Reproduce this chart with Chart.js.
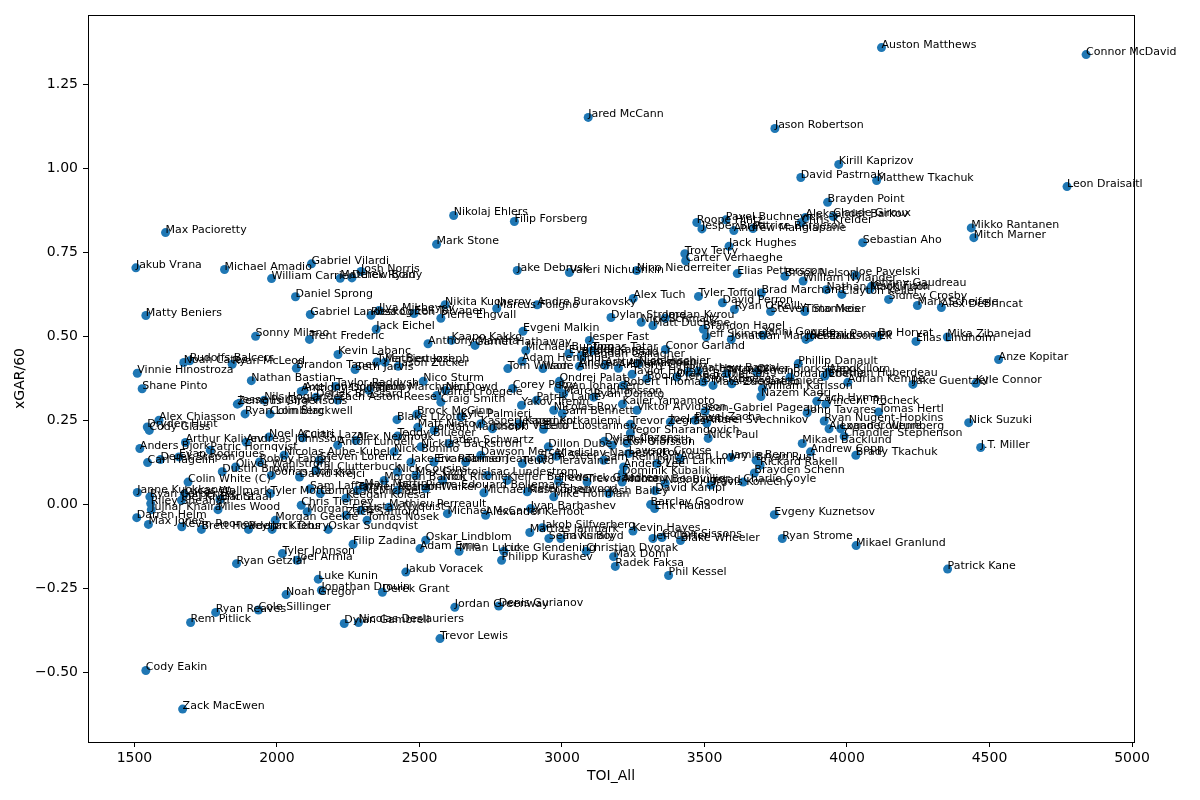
<!DOCTYPE html>
<html>
<head>
<meta charset="utf-8">
<title>xGAR/60 vs TOI_All</title>
<script src="https://cdn.jsdelivr.net/npm/chart.js@4.4.0/dist/chart.umd.min.js"></script>
<style>
    html, body { margin: 0; padding: 0; background: #fff; }
    #wrap { width: 1200px; height: 800px; }
</style>
</head>
<body>
<div id="wrap"><canvas id="xgar-chart" width="1200" height="800"></canvas></div>
<script>

// players, in the same order in all three arrays
const players = [
    'Auston Matthews', 'Connor McDavid', 'Jared McCann', 'Jason Robertson', 'Kirill Kaprizov', 'David Pastrnak', 'Matthew Tkachuk', 'Leon Draisaitl', 'Brayden Point', 'Max Pacioretty',
    'Nikolaj Ehlers', 'Filip Forsberg', 'Mark Stone', 'Mikko Rantanen', 'Mitch Marner', 'Sebastian Aho', 'Jack Hughes', 'Troy Terry', 'Carter Verhaeghe', 'Roope Hintz',
    'Jesper Bratt', 'Pavel Buchnevich', 'Andrew Mangiapane', 'Patrice Bergeron', 'Chris Kreider', 'Aleksander Barkov', 'Claude Giroux', 'Jake Debrusk', 'Valeri Nichushkin', 'Nino Niederreiter',
    'Elias Pettersson', 'Brock Nelson', 'William Nylander', 'Joe Pavelski', 'Johnny Gaudreau', 'Nathan MacKinnon', 'Clayton Keller', 'Mark Scheifele', 'Alex DeBrincat', 'Sidney Crosby',
    'Kevin Fiala', 'Brad Marchand', 'Tyler Toffoli', 'Alex Tuch', 'David Perron', "Ryan O'Reilly", 'Steven Stamkos', 'Timo Meier', 'Jordan Kyrou', 'Dylan Strome',
    'Nick Schmaltz', 'Matt Duchene', 'Brandon Hagel', 'Jeff Skinner', 'Jonathan Marchessault', 'Yanni Gourde', 'Artemi Panarin', 'Joel Eriksson Ek', 'Bo Horvat', 'Elias Lindholm',
    'Mika Zibanejad', 'Anze Kopitar', 'Kyle Connor', 'Jake Guentzel', 'Nick Suzuki', 'J.T. Miller', 'Patrick Kane', 'Mikael Granlund', 'Ryan Strome', 'Evgeny Kuznetsov',
    'Phil Kessel', 'Blake Wheeler', 'Jeff Carter', 'Colton Sissons', 'Kevin Hayes', 'Erik Haula', 'Barclay Goodrow', 'Radek Faksa', 'Max Domi', 'Christian Dvorak',
    'Jakob Silfverberg', 'Mattias Janmark', 'Sean Kuraly', 'Travis Boyd', 'Philipp Kurashev', 'Luke Glendening', 'Milan Lucic', 'Adam Erne', 'Oskar Lindblom', 'Jakub Voracek',
    'Derek Grant', 'Jordan Greenway', 'Denis Gurianov', 'Trevor Lewis', 'Dylan Gambrell', 'Nicolas Deslauriers', 'Jonathan Drouin', 'Noah Gregor', 'Luke Kunin', 'Ryan Reaves',
    'Cole Sillinger', 'Rem Pitlick', 'Cody Eakin', 'Zack MacEwen', 'Ryan Getzlaf', 'Tyler Johnson', 'Joel Armia', 'Filip Zadina', 'Oskar Sundqvist', 'Darren Helm',
    'Max Jones', 'Kevin Rooney', 'Brett Howden', 'Peyton Krebs', 'Jack Drury', 'Morgan Geekie', 'Morgan Frost', 'Jakub Vrana', 'Michael Amadio', 'Gabriel Vilardi',
    'William Carrier', 'Josh Norris', 'Matthew Boldy', 'Derek Ryan', 'Daniel Sprong', 'Matty Beniers', 'Gabriel Landeskog', 'Ross Colton', 'Ilya Mikheyev', 'Eeli Tolvanen',
    'Pierre Engvall', 'Nikita Kucherov', 'Marcus Foligno', 'Andre Burakovsky', 'Jack Eichel', 'Sonny Milano', 'Trent Frederic', 'Anthony Mantha', 'Kaapo Kakko', 'Garnet Hathaway',
    'Evgeni Malkin', 'Michael Bunting', 'Jesper Fast', 'Adam Henrique', 'Tom Wilson', 'Wade Allison', 'Andreas Athanasiou', 'Tomas Tatar', 'Conor Garland', 'Evander Kane',
    'Brandon Saad', 'Nico Hischier', 'Kevin Labanc', 'Brandon Tanev', 'Seth Jarvis', 'Tyler Bertuzzi', 'Mathieu Joseph', 'Jason Zucker', 'Ryan McLeod', 'Noah Cates',
    'Rudolfs Balcers', 'Vinnie Hinostroza', 'Shane Pinto', 'Nathan Bastian', 'Taylor Raddysh', 'Anthony Duclair', 'Axel Jonsson-Fjallby', 'Derick Brassard', 'Mason Marchment', 'Nic Dowd',
    'Nico Sturm', 'Corey Perry', 'Ondrej Palat', 'Ryan Johansen', 'Marcus Johansson', 'Patrik Laine', 'Yakov Trenin', 'Nicolas Roy', 'Jesperi Kotkaniemi', 'Warren Foegele',
    'Craig Smith', 'Brock McGinn', 'Blake Lizotte', 'Matt Nieto', 'Dillon Dube', 'Dylan Cozens', 'Victor Olofsson', 'Phillip Danault', 'Nazem Kadri', 'William Karlsson',
    'Zach Hyman', 'Vincent Trocheck', 'John Tavares', 'Tomas Hertl', 'Ryan Nugent-Hopkins', 'Alexander Wennberg', 'Logan Couture', 'Chandler Stephenson', 'Mikael Backlund', 'Andrew Copp',
    'Brady Tkachuk', 'Bryan Rust', 'Rickard Rakell', 'Jamie Benn', 'Brayden Schenn', 'Charlie Coyle', 'Anthony Beauvillier', 'Travis Konecny', 'David Kampf', 'Josh Bailey',
    'Mike Hoffman', 'Trevor Moore', 'Frederick Gaudreau', 'Dominik Kubalik', 'Mathew Barzal', 'Oliver Bjorkstrand', 'Alex Killorn', 'Jonathan Huberdeau', 'Adrian Kempe', 'Jordan Eberle',
    'Jean-Gabriel Pageau', 'Nick Paul', 'Trevor Zegras', 'Joel Farabee', 'Pavel Zacha', 'Andrei Svechnikov', 'Yegor Sharangovich', 'Viktor Arvidsson', 'Kailer Yamamoto', 'Lawson Crouse',
    'Reilly Smith', 'Brendan Gallagher', 'Artturi Lehkonen', 'Anthony Cirelli', 'Taylor Hall', 'Boone Jenner', 'Robert Thomas', 'Drake Batherson', 'Ryan Hartman', 'Brock Boeser',
    'Mats Zuccarello', 'Tyler Seguin', 'Alexis Lafreniere', 'Ryan Donato', 'Sam Bennett', 'Eetu Luostarinen', 'Sam Reinhart', 'Anders Lee', 'Dylan Larkin', 'Adam Lowry',
    'Nick Bjugstad', 'Kyle Palmieri', 'Kasperi Kapanen', 'Joseph Veleno', 'Jordan Martinook', 'Jaden Schwartz', 'Nick Bonino', 'Nicklas Backstrom', 'Nick Cousins', 'Max Comtois',
    'Nick Ritchie', 'Isac Lundestrom', 'Kieffer Bellows', 'Jake Evans', 'Eric Robinson', 'Tanner Jeannot', 'Dawson Mercer', 'Teuvo Teravainen', 'Vladislav Namestnikov', 'Sam Steel',
    'Morgan Barron', 'Michael Rasmussen', 'Kiefer Sherwood', 'Michael McCarron', 'Alexander Kerfoot', 'Ivan Barbashev', 'Nathan Walker', 'Pierre-Edouard Bellemare', 'Gustav Nyquist', 'Mathieu Perreault',
    'Zach Sanford', 'Tomas Nosek', 'Keegan Kolesar', 'Matt Martin', 'Tanner Pearson', 'Sam Lafferty', 'Tyler Motte', 'Connor McMichael', 'Chris Tierney', 'Janne Kuokkanen',
    'Ryan Carpenter', 'Riley Sheahan', 'Jujhar Khaira', 'Eric Staal', 'Miles Wood', 'Joel Kiviranta', 'Lucas Wallmark', 'Anton Lundell', 'Alex Newhook', 'Teddy Blueger',
    'Zemgus Girgensons', 'Jesse Puljujarvi', 'Nils Hoglander', 'Ryan Lomberg', 'Colin Blackwell', 'Zach Aston-Reese', 'Alex Chiasson', 'Dryden Hunt', 'Cody Glass', 'Anders Bjork',
    'Arthur Kaliyev', 'Patric Hornqvist', 'Andreas Johnsson', 'Noel Acciari', 'Carl Hagelin', 'Derek Stepan', 'Evan Rodrigues', 'Curtis Lazar', 'Robby Fabbri', 'Oliver Wahlstrom',
    'Dustin Brown', 'Joonas Donskoi', 'Colin White (C)', 'Steven Lorentz', 'Nicolas Aube-Kubel', 'Cal Clutterbuck', 'David Krejci'
];

// TOI_All (minutes)
const toiAll = [
    4121, 4839, 3092, 3747, 3971, 3838, 4104, 4772, 3932, 1609,
    2620, 2833, 2560, 4436, 4445, 4055, 3586, 3431, 3434, 3473,
    3491, 3575, 3603, 3670, 3840, 3854, 3952, 2843, 3026, 3262,
    3615, 3782, 3846, 4030, 4086, 3928, 3982, 4247, 4331, 4146,
    4080, 3700, 3479, 3250, 3563, 3605, 3732, 3852, 3362, 3172,
    3278, 3319, 3496, 3506, 3594, 3705, 3870, 3856, 4110, 4242,
    4352, 4532, 4452, 4231, 4427, 4469, 4353, 4032, 3773, 3745,
    3374, 3416, 3319, 3351, 3249, 3325, 3311, 3187, 3181, 3085,
    2931, 2887, 2954, 2996, 2788, 2796, 2639, 2502, 2522, 2452,
    2370, 2624, 2778, 2572, 2236, 2286, 2156, 2032, 2145, 1785,
    1935, 1697, 1540, 1669, 1858, 2019, 2071, 2267, 2180, 1508,
    1549, 1666, 1735, 1900, 1983, 1994, 2106, 1505, 1816, 2121,
    1981, 2295, 2222, 2263, 2065, 1540, 2117, 2330, 2358, 2481,
    2575, 2590, 2771, 2913, 2348, 1925, 2114, 2530, 2612, 2695,
    2863, 2873, 3096, 2860, 2810, 2933, 3061, 3106, 3363, 3024,
    3068, 3269, 2214, 2068, 2274, 2351, 2379, 2425, 1843, 1673,
    1694, 1510, 1527, 1910, 2206, 2085, 2095, 2137, 2323, 2592,
    2513, 2827, 2991, 2988, 3006, 2911, 2858, 2971, 2849, 2561,
    2575, 2491, 2421, 2494, 2952, 3149, 3176, 3829, 3698, 3703,
    3894, 3926, 3860, 4111, 3920, 3937, 3978, 3990, 3843, 3872,
    4031, 3681, 3695, 3592, 3675, 3636, 3211, 3523, 3327, 3164,
    2971, 3088, 2988, 3211, 3478, 3684, 3936, 3922, 4003, 3800,
    3502, 3513, 3240, 3380, 3467, 3508, 3240, 3263, 3212, 3234,
    3228, 3070, 3152, 3198, 3246, 3298, 3215, 3403, 3444, 3496,
    3530, 3578, 3596, 3111, 3001, 2935, 3146, 3216, 3333, 3415,
    3362, 2645, 2715, 2756, 2551, 2604, 2411, 2505, 2423, 2487,
    2581, 2738, 2808, 2470, 2551, 2662, 2715, 2861, 2981, 2925,
    2376, 2726, 2878, 2598, 2732, 2890, 2423, 2522, 2295, 2393,
    2242, 2316, 2242, 2306, 2283, 2116, 1977, 2152, 2085, 1510,
    1554, 1557, 1559, 1800, 1793, 1665, 1675, 2213, 2277, 2423,
    1861, 1868, 1955, 1888, 1976, 2213, 1586, 1545, 1552, 1519,
    1679, 1766, 1892, 1972, 1546, 1591, 1656, 2090, 1939, 1855,
    1808, 1980, 1688, 2149, 2025, 2137, 2079
];

// xGAR per 60
const xgar60 = [
    1.360, 1.339, 1.152, 1.119, 1.012, 0.973, 0.964, 0.946, 0.899, 0.809,
    0.860, 0.842, 0.774, 0.823, 0.794, 0.779, 0.768, 0.746, 0.725, 0.839,
    0.820, 0.847, 0.815, 0.821, 0.839, 0.854, 0.857, 0.696, 0.690, 0.696,
    0.687, 0.679, 0.665, 0.682, 0.649, 0.639, 0.625, 0.592, 0.586, 0.610,
    0.640, 0.629, 0.619, 0.613, 0.600, 0.580, 0.574, 0.574, 0.554, 0.556,
    0.542, 0.532, 0.521, 0.499, 0.491, 0.503, 0.497, 0.491, 0.500, 0.485,
    0.498, 0.431, 0.360, 0.357, 0.243, 0.169, -0.193, -0.123, -0.102, -0.031,
    -0.212, -0.108, -0.102, -0.099, -0.080, -0.013, -0.001, -0.185, -0.156, -0.140,
    -0.070, -0.084, -0.102, -0.102, -0.167, -0.140, -0.140, -0.132, -0.107, -0.202,
    -0.262, -0.307, -0.303, -0.400, -0.355, -0.352, -0.256, -0.269, -0.223, -0.322,
    -0.315, -0.352, -0.495, -0.610, -0.177, -0.147, -0.167, -0.119, -0.075, -0.040,
    -0.060, -0.067, -0.075, -0.075, -0.075, -0.048, -0.022, 0.704, 0.699, 0.716,
    0.672, 0.693, 0.673, 0.674, 0.618, 0.562, 0.565, 0.563, 0.577, 0.568,
    0.554, 0.594, 0.583, 0.594, 0.521, 0.500, 0.491, 0.478, 0.488, 0.473,
    0.515, 0.458, 0.488, 0.426, 0.404, 0.404, 0.411, 0.458, 0.461, 0.449,
    0.443, 0.419, 0.446, 0.405, 0.401, 0.424, 0.423, 0.411, 0.417, 0.422,
    0.427, 0.390, 0.344, 0.368, 0.351, 0.336, 0.339, 0.319, 0.339, 0.339,
    0.366, 0.345, 0.366, 0.344, 0.329, 0.310, 0.295, 0.280, 0.240, 0.324,
    0.304, 0.268, 0.252, 0.229, 0.171, 0.188, 0.176, 0.419, 0.321, 0.344,
    0.307, 0.298, 0.272, 0.275, 0.248, 0.225, 0.225, 0.202, 0.181, 0.156,
    0.146, 0.131, 0.116, 0.139, 0.093, 0.066, 0.066, 0.057, 0.040, 0.032,
    0.022, 0.066, 0.068, 0.091, 0.396, 0.393, 0.393, 0.381, 0.363, 0.378,
    0.277, 0.196, 0.238, 0.245, 0.250, 0.242, 0.212, 0.280, 0.298, 0.151,
    0.182, 0.438, 0.414, 0.405, 0.387, 0.374, 0.354, 0.379, 0.394, 0.364,
    0.354, 0.389, 0.359, 0.319, 0.270, 0.223, 0.131, 0.111, 0.121, 0.136,
    0.062, 0.260, 0.240, 0.225, 0.220, 0.181, 0.156, 0.171, 0.096, 0.086,
    0.071, 0.086, 0.071, 0.125, 0.126, 0.126, 0.146, 0.121, 0.143, 0.136,
    0.071, 0.034, 0.037, -0.028, -0.033, -0.013, 0.042, 0.047, -0.018, -0.009,
    -0.033, -0.048, 0.018, 0.051, 0.042, 0.046, 0.032, 0.032, -0.003, 0.035,
    0.022, 0.002, -0.016, 0.014, -0.016, 0.012, 0.030, 0.176, 0.190, 0.203,
    0.298, 0.301, 0.310, 0.269, 0.269, 0.310, 0.250, 0.230, 0.220, 0.166,
    0.184, 0.161, 0.185, 0.200, 0.124, 0.133, 0.141, 0.198, 0.126, 0.111,
    0.097, 0.086, 0.066, 0.131, 0.146, 0.101, 0.081
];

const xTicks = [1500, 2000, 2500, 3000, 3500, 4000, 4500, 5000];
const yTicks = [-0.5, -0.25, 0, 0.25, 0.5, 0.75, 1, 1.25];


// name next to every dot, baseline on the point like plt.text
const nameLabels = {
    id: 'nameLabels',
    afterDatasetsDraw(chart) {
        const ctx = chart.ctx;
        const meta = chart.getDatasetMeta(0);
        ctx.save();
        ctx.font = '11px "DejaVu Sans"';
        ctx.fillStyle = '#000';
        ctx.textAlign = 'left';
        ctx.textBaseline = 'alphabetic';
        meta.data.forEach((pt, i) => {
            ctx.fillText(players[i], pt.x, pt.y);
        });
        ctx.restore();
    }
};

// full box round the axes
const axesFrame = {
    id: 'axesFrame',
    afterDraw(chart) {
        const a = chart.chartArea;
        const ctx = chart.ctx;
        ctx.save();
        ctx.strokeStyle = '#000';
        ctx.lineWidth = 1;
        ctx.strokeRect(Math.round(a.left) + 0.5, Math.round(a.top) + 0.5,
            Math.round(a.right - a.left), Math.round(a.bottom - a.top));
        ctx.restore();
    }
};

function fmtY(v) {
    const s = Math.abs(v).toFixed(2);
    return v < 0 ? '\u2212' + s : s;
}

const tickFont = { family: 'DejaVu Sans', size: 14 };

new Chart(document.getElementById('xgar-chart'), {
    type: 'scatter',
    data: {
        datasets: [{
            data: toiAll.map((t, i) => ({ x: t, y: xgar60[i] })),
            backgroundColor: '#1f77b4',
            borderWidth: 0,
            pointRadius: 4.5,
            pointHoverRadius: 4.5
        }]
    },
    options: {
        responsive: false,
        animation: false,
        devicePixelRatio: 1,
        layout: { padding: { left: 0, right: 66, top: 15, bottom: 0 } },
        plugins: {
            legend: { display: false },
            tooltip: { enabled: false }
        },
        scales: {
            x: {
                type: 'linear',
                min: 1337,
                max: 5007,
                afterBuildTicks: s => { s.ticks = xTicks.map(v => ({ value: v })); },
                afterFit: s => { s.height = 58; },
                grid: { display: true, drawOnChartArea: false, drawTicks: true, tickLength: 5, tickColor: '#000' },
                border: { display: true, color: '#000', width: 1 },
                ticks: {
                    color: '#000', font: tickFont, padding: 3,
                    autoSkip: false, maxRotation: 0,
                    callback: v => String(v)
                },
                title: {
                    display: true, text: 'TOI_All', color: '#000',
                    font: tickFont, padding: { top: 0, bottom: 15 }
                }
            },
            y: {
                type: 'linear',
                min: -0.708,
                max: 1.457,
                afterBuildTicks: s => { s.ticks = yTicks.map(v => ({ value: v })); },
                afterFit: s => { s.width = 88; },
                grid: { display: true, drawOnChartArea: false, drawTicks: true, tickLength: 5, tickColor: '#000' },
                border: { display: true, color: '#000', width: 1 },
                ticks: {
                    color: '#000', font: tickFont, padding: 5,
                    autoSkip: false,
                    callback: v => fmtY(v)
                },
                title: {
                    display: true, text: 'xGAR/60', color: '#000',
                    font: tickFont, padding: { top: 12, bottom: 0 }
                }
            }
        }
    },
    plugins: [nameLabels, axesFrame]
});

</script>
</body>
</html>
